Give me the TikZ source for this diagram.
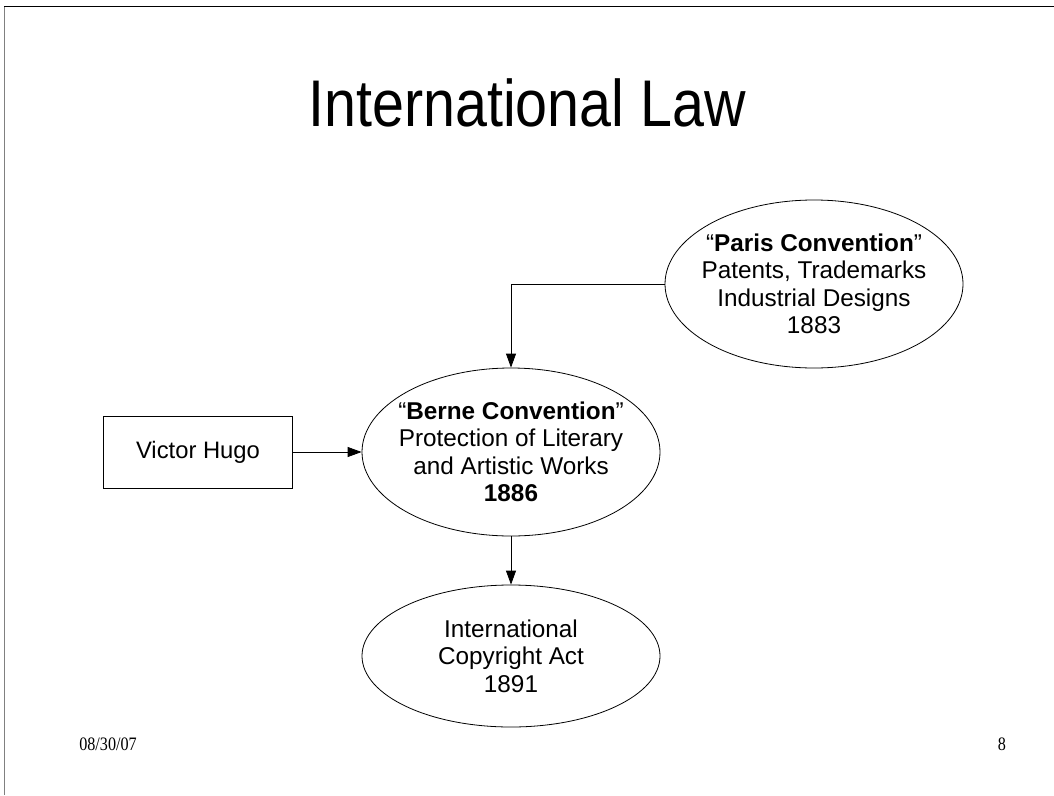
\documentclass[tikz,border=0pt]{standalone}
\usepackage{fontspec}
\setmainfont{Liberation Sans}
\newfontfamily\titlefont{Liberation Sans}[FakeStretch=0.87]
\newfontfamily\footfont{Liberation Serif}[FakeStretch=0.85]
\usetikzlibrary{shapes.geometric,arrows.meta}
\begin{document}
\begin{tikzpicture}[x=1pt,y=-1pt,line width=0.8pt,
  oval/.style={draw,ellipse,minimum width=298pt,minimum height=168pt,inner xsep=-30pt,inner ysep=-20pt,align=center,font=\fontsize{24.3}{27.5}\selectfont},
  box/.style={draw,rectangle,minimum width=189pt,minimum height=72pt,inner sep=0pt,font=\fontsize{23.8}{27.5}\selectfont},
  conn/.style={-{Triangle[length=14pt,width=10pt]}},
  foot/.style={inner sep=0pt,font=\footfont\fontsize{19}{19}\selectfont}]
\useasboundingbox (0,0) rectangle (1054,795);
\draw[line width=1pt,gray] (4,795) -- (4,6);
\draw[line width=1pt] (4,6) -- (1054,6);
\node (title) at (527,103) {\titlefont\fontsize{66}{66}\selectfont International Law};
\node[oval] (paris) at (814,284) {“\textbf{Paris Convention}”\\Patents, Trademarks\\Industrial Designs\\1883};
\node[oval] (berne) at (511,452) {“\textbf{Berne Convention}”\\Protection of Literary\\and Artistic Works\\\textbf{1886}};
\node[oval,minimum height=142pt] (copy) at (511,656) {International\\Copyright Act\\1891};
\node[box] (hugo) at (198,452) {Victor Hugo};
\draw[conn] (paris.west) -| (berne.north);
\draw[conn] (hugo) -- (berne);
\draw[conn] (berne) -- (copy);
\node[foot] (date) at (108,744) {08/30/07};
\node[foot] (page) at (1002,744) {8};
\end{tikzpicture}
\end{document}
